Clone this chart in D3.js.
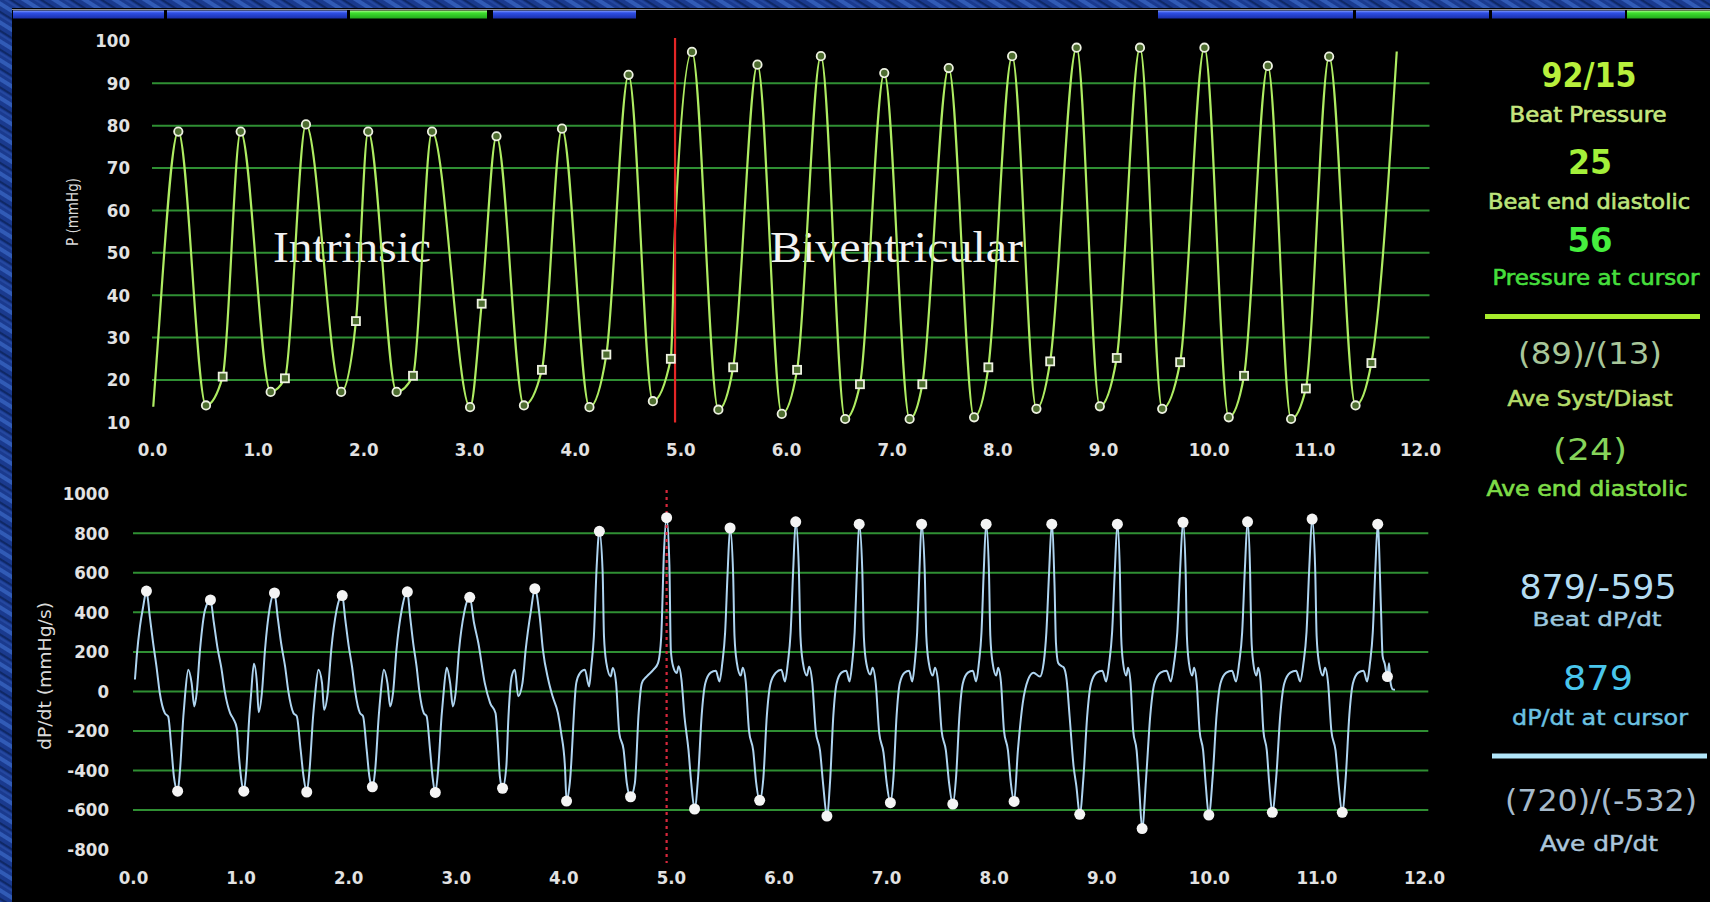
<!DOCTYPE html>
<html>
<head>
<meta charset="utf-8">
<script src="https://cdn.jsdelivr.net/npm/d3@7"></script>
<style>
  html, body { margin: 0; padding: 0; background: #1b3a8c; overflow: hidden; }
  svg { display: block; }
</style>
</head>
<body>
<svg id="chart" width="1710" height="902"></svg>
<script>
// ---------------- axis ticks ----------------
const timeTicks = [0, 1, 2, 3, 4, 5, 6, 7, 8, 9, 10, 11, 12];            // s
const pressureTicks = [10, 20, 30, 40, 50, 60, 70, 80, 90, 100];        // mmHg
const dpdtTicks = [-800, -600, -400, -200, 0, 200, 400, 600, 800, 1000]; // mmHg/s

// ---------------- readouts ----------------
const beatPressure = [92, 15];
const beatEndDiastolic = 25;
const pressureAtCursor = 56;
const avePressure = [89, 13];
const aveEndDiastolic = 24;
const beatDpdt = [879, -595];
const dpdtAtCursor = 879;
const aveDpdt = [720, -532];

// cursor positions (s)
const pressureCursorTime = 4.95;
const dpdtCursorTime = 4.96;

// pacing phases
const phaseLabels = ["Intrinsic", "Biventricular"];

// ---------------- LV pressure (t s, mmHg) ----------------
const pressurePeaks = [
  [0.249, 78.6], [0.839, 78.6], [1.457, 80.3], [2.046, 78.6], [2.65, 78.6],
  [3.26, 77.5], [3.88, 79.3], [4.51, beatPressure[0]], [5.11, 97.4], [5.73, 94.4],
  [6.33, 96.4], [6.93, 92.4], [7.54, 93.6], [8.14, 96.4], [8.75, 98.4],
  [9.35, 98.4], [9.96, 98.4], [10.56, 94.1], [11.14, 96.3]
];
const pressureTroughs = [
  [0.511, 14.0], [1.123, 17.2], [1.79, 17.2], [2.315, 17.2], [3.01, 13.6],
  [3.52, 14.0], [4.14, 13.6], [4.74, beatPressure[1]], [5.36, 13.0], [5.96, 12.0],
  [6.56, 10.8], [7.17, 10.8], [7.78, 11.2], [8.37, 13.2], [8.97, 13.8],
  [9.56, 13.2], [10.19, 11.2], [10.78, 10.8], [11.39, 14.0]
];
const pressureEndDiastolic = [
  [0.669, 20.8], [1.258, 20.4], [1.93, 33.9], [2.47, 21.0], [3.12, 38.0],
  [3.69, 22.4], [4.30, 26.0], [4.91, beatEndDiastolic], [5.50, 23.0], [6.105, 22.4],
  [6.70, 19.0], [7.29, 19.0], [7.915, 23.0], [8.50, 24.4], [9.13, 25.2],
  [9.73, 24.2], [10.335, 21.0], [10.92, 18.0], [11.54, 24.0]
];
// unmarked samples at the start and end of the record
const pressureOpen = [[0.012, 13.7], [0.044, 24.8]];
const pressureClose = [[11.78, 97.5]];

// ---------------- dP/dt (t s, mmHg/s) ----------------
const dpdtPeaks = [
  [0.125, 508], [0.72, 463], [1.315, 498], [1.945, 485], [2.55, 504],
  [3.13, 476], [3.735, 520], [4.335, 810], [dpdtCursorTime, beatDpdt[0]], [5.55, 827],
  [6.16, 858], [6.75, 846], [7.33, 846], [7.93, 846], [8.54, 846],
  [9.15, 846], [9.76, 856], [10.36, 858], [10.96, 872], [11.57, 846]
];
const dpdtTroughs = [
  [0.415, -505], [1.03, -505], [1.615, -509], [2.225, -483], [2.81, -511],
  [3.435, -490], [4.03, -555], [4.625, -533], [5.22, beatDpdt[1]], [5.825, -551],
  [6.45, -631], [7.04, -563], [7.62, -570], [8.19, -557], [8.80, -622],
  [9.38, -694], [10.0, -626], [10.59, -612], [11.24, -612]
];
const dpdtTailMarker = [[11.66, 75]];
// samples between the marked extremes
const dpdtSamples = [
  [0.018, 60], [0.035, 180], [0.065, 330], [0.095, 430],
  [0.156, 380], [0.187, 245], [0.218, 127], [0.249, -8], [0.296, -110], [0.327, -127], [0.358, -295], [0.38, -430],
  [0.437, -397], [0.468, -127], [0.483, -25], [0.514, 110], [0.545, 42], [0.57, -76], [0.592, -8], [0.623, 211], [0.67, 413],
  [0.751, 350], [0.785, 222], [0.822, 116], [0.853, 0], [0.903, -110], [0.934, -140], [0.964, -185], [0.985, -330], [1.005, -440],
  [1.053, -397], [1.081, -127], [1.096, -25], [1.124, 140], [1.152, 40], [1.168, -105], [1.198, -8], [1.227, 211], [1.27, 420],
  [1.345, 375], [1.378, 240], [1.414, 125], [1.444, 0], [1.492, -110], [1.522, -125], [1.558, -295], [1.585, -430],
  [1.641, -397], [1.674, -127], [1.691, -25], [1.724, 110], [1.757, 42], [1.776, -93], [1.81, -8], [1.843, 211], [1.892, 410],
  [1.973, 365], [2.004, 233], [2.037, 121], [2.065, 0], [2.11, -110], [2.138, -125], [2.172, -295], [2.197, -430],
  [2.251, -397], [2.284, -127], [2.30, -25], [2.332, 110], [2.365, 42], [2.391, -76], [2.417, -8], [2.449, 211], [2.498, 413],
  [2.576, 378], [2.605, 242], [2.636, 126], [2.662, 0], [2.703, -110], [2.729, -125], [2.761, -295], [2.784, -430],
  [2.836, -397], [2.868, -127], [2.884, -25], [2.916, 120], [2.948, 42], [2.973, -76], [2.999, -8], [3.031, 211], [3.079, 400],
  [3.17, 346], [3.21, 245], [3.27, 42], [3.32, -59], [3.37, -110], [3.39, -250], [3.41, -430],
  [3.47, -380], [3.49, -127], [3.52, 76], [3.55, 110], [3.58, -25], [3.62, 42], [3.65, 211], [3.70, 413],
  [3.78, 380], [3.81, 211], [3.86, 59], [3.90, -25], [3.95, -110], [3.98, -211], [4.015, -380],
  [4.06, -464], [4.12, 42], [4.155, 93], [4.20, 110], [4.24, 25], [4.26, 127], [4.284, 278], [4.31, 633],
  [4.365, 610], [4.378, 278], [4.40, 143], [4.44, 76], [4.46, 118], [4.49, 42], [4.52, -211], [4.56, -295], [4.59, -464],
  [4.665, -464], [4.70, -110], [4.73, 42], [4.776, 76], [4.838, 110], [4.88, 143], [4.91, 278], [4.935, 700],
  [4.986, 640], [4.999, 211], [5.02, 127], [5.054, 93], [5.072, 127], [5.098, 60], [5.126, -127], [5.163, -295], [5.189, -464],
  [5.253, -430], [5.286, -120], [5.319, 40], [5.369, 95], [5.418, 105], [5.451, 50], [5.477, 140], [5.504, 300], [5.527, 600],
  [5.578, 600], [5.591, 280], [5.613, 145], [5.649, 80], [5.668, 120], [5.696, 45], [5.726, -200], [5.765, -300], [5.792, -460],
  [5.859, -440], [5.892, -120], [5.926, 40], [5.976, 95], [6.026, 110], [6.06, 50], [6.086, 140], [6.113, 300], [6.137, 620],
  [6.189, 620], [6.204, 280], [6.227, 145], [6.264, 80], [6.285, 125], [6.314, 45], [6.346, -200], [6.386, -300], [6.415, -470],
  [6.48, -450], [6.51, -120], [6.54, 40], [6.585, 95], [6.63, 105], [6.66, 50], [6.684, 140], [6.708, 300], [6.729, 610],
  [6.779, 610], [6.794, 270], [6.817, 140], [6.854, 85], [6.875, 120], [6.904, 40], [6.936, -210], [6.976, -310], [7.005, -460],
  [7.069, -430], [7.098, -120], [7.127, 40], [7.171, 95], [7.214, 105], [7.243, 50], [7.266, 140], [7.289, 300], [7.31, 610],
  [7.359, 610], [7.374, 280], [7.397, 145], [7.434, 80], [7.455, 120], [7.484, 45], [7.516, -200], [7.556, -300], [7.585, -460],
  [7.651, -430], [7.682, -120], [7.713, 40], [7.76, 95], [7.806, 105], [7.837, 50], [7.862, 140], [7.887, 300], [7.908, 610],
  [7.956, 610], [7.969, 280], [7.99, 145], [8.024, 80], [8.042, 120], [8.068, 45], [8.096, -200], [8.133, -300], [8.159, -460],
  [8.225, -300], [8.27, -60], [8.32, 60], [8.37, 95], [8.43, 75], [8.465, 145], [8.49, 300], [8.515, 600],
  [8.566, 532], [8.579, 245], [8.60, 144], [8.634, 127], [8.652, 120], [8.678, 59], [8.706, -127], [8.743, -380], [8.769, -480],
  [8.835, -430], [8.87, -120], [8.905, 40], [8.958, 95], [9.01, 105], [9.045, 50], [9.073, 140], [9.101, 300], [9.126, 610],
  [9.173, 610], [9.185, 280], [9.203, 145], [9.233, 80], [9.249, 120], [9.272, 45], [9.297, -200], [9.329, -300], [9.352, -480],
  [9.418, -430], [9.456, -120], [9.494, 40], [9.551, 95], [9.608, 105], [9.646, 50], [9.676, 140], [9.707, 300], [9.733, 615],
  [9.784, 615], [9.796, 280], [9.815, 145], [9.846, 80], [9.863, 120], [9.887, 45], [9.914, -200], [9.947, -300], [9.971, -470],
  [10.036, -430], [10.072, -120], [10.108, 40], [10.162, 95], [10.216, 105], [10.252, 50], [10.281, 140], [10.31, 300], [10.335, 620],
  [10.383, 620], [10.395, 280], [10.413, 145], [10.443, 80], [10.459, 120], [10.482, 45], [10.507, -200], [10.539, -300], [10.562, -470],
  [10.627, -430], [10.664, -120], [10.701, 40], [10.757, 95], [10.812, 105], [10.849, 50], [10.879, 140], [10.908, 300], [10.934, 630],
  [10.988, 630], [11.002, 280], [11.024, 145], [11.061, 80], [11.08, 120], [11.108, 45], [11.139, -200], [11.178, -300], [11.206, -470],
  [11.273, -430], [11.306, -120], [11.339, 40], [11.389, 95], [11.438, 105], [11.471, 50], [11.497, 140], [11.524, 300], [11.547, 610],
  [11.60, 420], [11.615, 180], [11.635, 140], [11.675, 143], [11.69, 42], [11.71, 10], [11.73, 8]
];

// ---------------- drawing ----------------
const W = 1710, H = 902;
const svg = d3.select("#chart");
const defs = svg.append("defs");

// slate-blue backdrop texture
const pat = defs.append("pattern").attr("id", "slate")
  .attr("width", 16).attr("height", 16).attr("patternUnits", "userSpaceOnUse")
  .attr("patternTransform", "rotate(32)");
pat.append("rect").attr("width", 16).attr("height", 16).attr("fill", "#1a3a8e");
pat.append("rect").attr("y", 1).attr("width", 16).attr("height", 4).attr("fill", "#3561bd").attr("opacity", 0.85);
pat.append("rect").attr("y", 9).attr("width", 16).attr("height", 2).attr("fill", "#0f2866");
pat.append("rect").attr("y", 12).attr("width", 16).attr("height", 2).attr("fill", "#2a4fa8").attr("opacity", 0.7);
svg.append("rect").attr("width", W).attr("height", H).attr("fill", "url(#slate)");

// black instrument panel
svg.append("rect").attr("x", 12).attr("y", 8).attr("width", W - 12).attr("height", H - 8).attr("fill", "#000");

// status strip across the top
const gBlue = defs.append("linearGradient").attr("id", "barBlue").attr("x1", 0).attr("y1", 0).attr("x2", 0).attr("y2", 1);
gBlue.append("stop").attr("offset", "0%").attr("stop-color", "#8aa2ff");
gBlue.append("stop").attr("offset", "30%").attr("stop-color", "#2e4fe6");
gBlue.append("stop").attr("offset", "100%").attr("stop-color", "#1a2fa8");
const gGreen = defs.append("linearGradient").attr("id", "barGreen").attr("x1", 0).attr("y1", 0).attr("x2", 0).attr("y2", 1);
gGreen.append("stop").attr("offset", "0%").attr("stop-color", "#b6ff9a");
gGreen.append("stop").attr("offset", "30%").attr("stop-color", "#3ee02e");
gGreen.append("stop").attr("offset", "100%").attr("stop-color", "#22a81c");
svg.append("line").attr("x1", 12).attr("x2", W).attr("y1", 9.5).attr("y2", 9.5)
  .attr("stroke", "#8c8f9c").attr("stroke-width", 1.2);
const strip = [
  [13, 164, "barBlue"], [167, 347, "barBlue"], [350, 487, "barGreen"], [493, 636, "barBlue"],
  [1158, 1353, "barBlue"], [1356, 1489, "barBlue"], [1492, 1625, "barBlue"], [1627, 1710, "barGreen"]
];
svg.append("g").selectAll("rect").data(strip).join("rect")
  .attr("x", d => d[0]).attr("y", 10.5).attr("width", d => d[1] - d[0]).attr("height", 8)
  .attr("fill", d => `url(#${d[2]})`);

// scales
const xP = d3.scaleLinear().domain([0, 12]).range([152, 1420]);
const yP = d3.scaleLinear().domain([10, 100]).range([422.4, 40.9]);
const xD = d3.scaleLinear().domain([0, 12]).range([133, 1424]);
const yD = d3.scaleLinear().domain([-800, 1000]).range([849.5, 493.8]);

const tickFont = "'DejaVu Sans Condensed','DejaVu Sans',sans-serif";
const plain = d => String(d);
function styleAxis(g) {
  g.select(".domain").remove();
  g.selectAll(".tick line").remove();
  g.selectAll("text").attr("font-family", tickFont).attr("font-size", 18.5)
    .attr("font-weight", "bold").attr("fill", "#e2e2e2");
}

// ---- pressure panel ----
const gridColor = "#2f8f33";
svg.append("g").selectAll("line").data(pressureTicks.slice(1, -1)).join("line")
  .attr("x1", xP(0)).attr("x2", xP(12.09))
  .attr("y1", d => yP(d)).attr("y2", d => yP(d))
  .attr("stroke", gridColor).attr("stroke-width", 2);

svg.append("g").attr("transform", `translate(${xP(0)},0)`)
  .call(d3.axisLeft(yP).tickValues(pressureTicks).tickSize(0).tickPadding(22).tickFormat(plain))
  .call(styleAxis);
svg.append("g").attr("transform", `translate(0,${yP(10)})`)
  .call(d3.axisBottom(xP).tickValues(timeTicks).tickSize(0).tickPadding(20).tickFormat(d3.format(".1f")))
  .call(styleAxis);

svg.append("text")
  .attr("transform", `translate(72,212) rotate(-90)`)
  .attr("text-anchor", "middle").attr("dy", "0.35em")
  .attr("font-family", tickFont).attr("font-size", 16).attr("fill", "#dadada")
  .attr("textLength", 68).attr("lengthAdjust", "spacingAndGlyphs")
  .text("P (mmHg)");

// phase labels
const serif = "'Liberation Serif','DejaVu Serif',serif";
svg.append("text").attr("x", 273).attr("y", 262).attr("font-family", serif).attr("font-size", 45)
  .attr("fill", "#f2f2f2").attr("textLength", 158).attr("lengthAdjust", "spacingAndGlyphs")
  .text(phaseLabels[0]);
svg.append("text").attr("x", 770).attr("y", 262).attr("font-family", serif).attr("font-size", 45)
  .attr("fill", "#f2f2f2").attr("textLength", 253).attr("lengthAdjust", "spacingAndGlyphs")
  .text(phaseLabels[1]);

// pressure trace
const pressureTrace = [].concat(pressureOpen, pressurePeaks, pressureTroughs, pressureEndDiastolic,
  [[pressureCursorTime, pressureAtCursor]], pressureClose).sort((a, b) => a[0] - b[0]);
const pLine = d3.line().x(d => xP(d[0])).y(d => yP(d[1])).curve(d3.curveMonotoneX);
svg.append("path").datum(pressureTrace).attr("d", pLine)
  .attr("fill", "none").attr("stroke", "#aeec62").attr("stroke-width", 2.2).attr("stroke-linejoin", "round");

// cursor
svg.append("line").attr("x1", xP(pressureCursorTime)).attr("x2", xP(pressureCursorTime))
  .attr("y1", 38).attr("y2", yP(10)).attr("stroke", "#e42626").attr("stroke-width", 2.2);

// beat markers
svg.append("g").selectAll("circle").data(pressurePeaks.concat(pressureTroughs)).join("circle")
  .attr("cx", d => xP(d[0])).attr("cy", d => yP(d[1])).attr("r", 4.2)
  .attr("fill", "#4e6d30").attr("stroke", "#eef2e2").attr("stroke-width", 1.8);
svg.append("g").selectAll("rect").data(pressureEndDiastolic).join("rect")
  .attr("x", d => xP(d[0]) - 4).attr("y", d => yP(d[1]) - 4).attr("width", 8).attr("height", 8)
  .attr("fill", "#4e6d30").attr("stroke", "#eef2e2").attr("stroke-width", 1.8);

// ---- dP/dt panel ----
svg.append("g").selectAll("line").data(dpdtTicks.slice(1, -1)).join("line")
  .attr("x1", xD(0)).attr("x2", xD(12.04))
  .attr("y1", d => yD(d)).attr("y2", d => yD(d))
  .attr("stroke", gridColor).attr("stroke-width", 2);

svg.append("g").attr("transform", `translate(${xD(0)},0)`)
  .call(d3.axisLeft(yD).tickValues(dpdtTicks).tickSize(0).tickPadding(24).tickFormat(plain))
  .call(styleAxis);
svg.append("g").attr("transform", `translate(0,${yD(-800)})`)
  .call(d3.axisBottom(xD).tickValues(timeTicks).tickSize(0).tickPadding(21).tickFormat(d3.format(".1f")))
  .call(styleAxis);

svg.append("text")
  .attr("transform", `translate(45,676) rotate(-90)`)
  .attr("text-anchor", "middle").attr("dy", "0.35em")
  .attr("font-family", tickFont).attr("font-size", 18).attr("fill", "#dadada")
  .attr("textLength", 148).attr("lengthAdjust", "spacingAndGlyphs")
  .text("dP/dt (mmHg/s)");

const dpdtTrace = [].concat(dpdtPeaks, dpdtTroughs, dpdtTailMarker, dpdtSamples).sort((a, b) => a[0] - b[0]);
const dLine = d3.line().x(d => xD(d[0])).y(d => yD(d[1])).curve(d3.curveMonotoneX);
svg.append("path").datum(dpdtTrace).attr("d", dLine)
  .attr("fill", "none").attr("stroke", "#aed4f0").attr("stroke-width", 2).attr("stroke-linejoin", "round");

svg.append("line").attr("x1", xD(dpdtCursorTime)).attr("x2", xD(dpdtCursorTime))
  .attr("y1", 490).attr("y2", 863).attr("stroke", "#d8283c").attr("stroke-width", 2.2)
  .attr("stroke-dasharray", "3,4");

svg.append("g").selectAll("circle").data(dpdtPeaks.concat(dpdtTroughs, dpdtTailMarker)).join("circle")
  .attr("cx", d => xD(d[0])).attr("cy", d => yD(d[1])).attr("r", 5.5)
  .attr("fill", "#f4f4f4");

// ---- readout column ----
const panelFont = "'DejaVu Sans Condensed','DejaVu Sans',sans-serif";
function readout(text, cx, cy, size, width, color, weight, lift, thicken) {
  const t = svg.append("text")
    .attr("x", cx - width / 2).attr("y", cy + size * lift)
    .attr("font-family", panelFont).attr("font-size", size).attr("font-weight", weight)
    .attr("fill", color).attr("textLength", width).attr("lengthAdjust", "spacingAndGlyphs")
    .text(text);
  if (thicken) t.attr("stroke", color).attr("stroke-width", thicken);
}
const NUM = 0.365, LBL = 0.38, PAR = 0.31;
readout(`${beatPressure[0]}/${beatPressure[1]}`, 1589, 75, 34, 95, "#b8f03c", "bold", NUM);
readout("Beat Pressure", 1588, 114, 21, 157, "#c6e67e", "normal", LBL, 0.6);
readout(`${beatEndDiastolic}`, 1590, 162, 34, 44, "#a4f03a", "bold", NUM);
readout("Beat end diastolic", 1589, 201, 21, 202, "#bce47a", "normal", LBL, 0.6);
readout(`${pressureAtCursor}`, 1590, 240, 34, 45, "#46ee3e", "bold", NUM);
readout("Pressure at cursor", 1596, 277, 21, 207, "#46de3c", "normal", LBL, 0.6);
svg.append("line").attr("x1", 1485).attr("x2", 1700).attr("y1", 316.5).attr("y2", 316.5)
  .attr("stroke", "#a8ec2c").attr("stroke-width", 5);
readout(`(${avePressure[0]})/(${avePressure[1]})`, 1590, 355, 30, 144, "#a8c69a", "normal", PAR);
readout("Ave Syst/Diast", 1590, 398, 21, 165, "#b4dc6a", "normal", LBL, 0.6);
readout(`(${aveEndDiastolic})`, 1590, 451, 30, 74, "#86d45a", "normal", PAR);
readout("Ave end diastolic", 1587, 488, 21, 201, "#7edc48", "normal", LBL, 0.6);

readout(`${beatDpdt[0]}/${beatDpdt[1]}`, 1598, 587, 34, 157, "#b4dcf2", "normal", NUM);
readout("Beat dP/dt", 1597, 618, 20, 129, "#9cc8de", "normal", LBL, 0.4);
readout(`${dpdtAtCursor}`, 1598, 678, 34, 70, "#4ac6ec", "normal", NUM);
readout("dP/dt at cursor", 1600, 717, 21, 176, "#6cc2e2", "normal", LBL, 0.4);
svg.append("line").attr("x1", 1492).attr("x2", 1707).attr("y1", 756).attr("y2", 756)
  .attr("stroke", "#b2e6fa").attr("stroke-width", 5);
readout(`(${aveDpdt[0]})/(${aveDpdt[1]})`, 1601, 802, 30, 192, "#a6bacb", "normal", PAR);
readout("Ave dP/dt", 1599, 843, 21, 118, "#aac6dc", "normal", LBL, 0.4);
</script>
</body>
</html>
